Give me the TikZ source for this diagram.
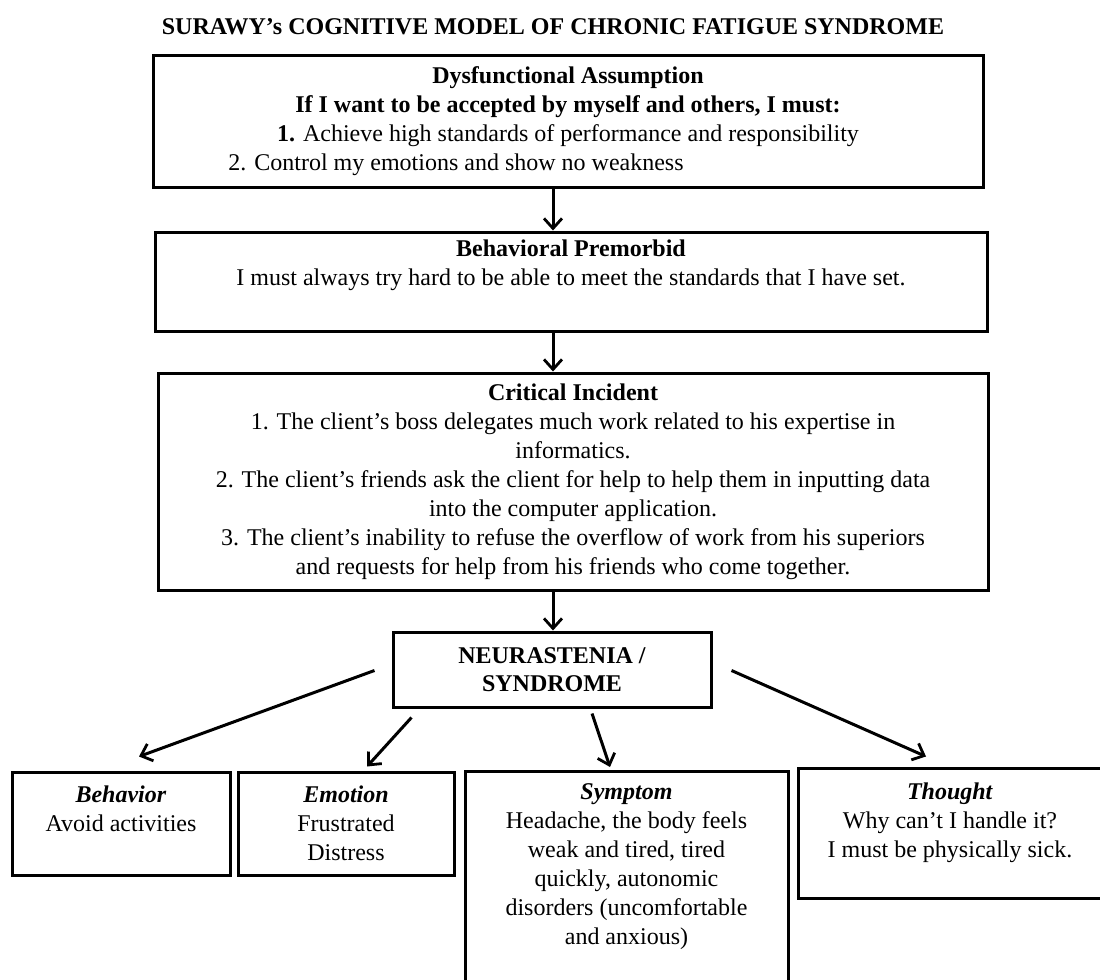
\documentclass[tikz,border=0pt]{standalone}
\usepackage{fontspec}
\setmainfont{Liberation Serif}
\usepackage{tikz}
\usetikzlibrary{calc,arrows.meta}
\tikzset{
  box/.style={draw=black, line width=1.5pt, align=center, inner sep=0pt,
    font=\fontsize{12}{14.5}\selectfont},
  ttl/.style={font=\fontsize{12}{14.5}\selectfont\bfseries},
  arr/.style={draw=black, line width=1.5pt,
    -{Straight Barb[length=5pt,width=9pt,line width=1.4pt]}},
}

\begin{document}
\begin{tikzpicture}[x=0.5pt,y=-0.5pt]
  \useasboundingbox[fill=white] (0,0) rectangle (1100,980);
  \node[ttl] (title) at (553,27) {SURAWY's COGNITIVE MODEL OF CHRONIC FATIGUE SYNDROME};
  % top chain
  \node[box, minimum width=415pt, minimum height=66pt] (dysf) at (568,121)
    {\textbf{Dysfunctional Assumption}\\
     \textbf{If I want to be accepted by myself and others, I must:}\\
     \textbf{1.} Achieve high standards of performance and responsibility\\
     2. Control my emotions and show no weakness\hspace*{112pt}};
  \node[box, minimum width=416pt, minimum height=49.5pt] (prem) at (571,281.5)
    {\textbf{Behavioral Premorbid}\\
     I must always try hard to be able to meet the standards that I have set.\\
     \strut};
  \node[box, minimum width=415pt, minimum height=108.5pt] (crit) at (573,481.5)
    {\textbf{Critical Incident}\\
     1. The client's boss delegates much work related to his expertise in\\
     informatics.\\
     2. The client's friends ask the client for help to help them in inputting data\\
     into the computer application.\\
     3. The client's inability to refuse the overflow of work from his superiors\\
     and requests for help from his friends who come together.};
  \node[box, minimum width=159pt, minimum height=37.5pt, font=\fontsize{12}{14}\selectfont\bfseries] (neur) at (552,669.5)
    {NEURASTENIA /\\SYNDROME};
  % bottom row
  \node[box, minimum width=109pt, minimum height=51.5pt] (behav) at (121,823.5)
    {\textbf{\textit{Behavior}}\\ Avoid activities\\[-4pt] \strut};
  \node[box, minimum width=108pt, minimum height=51.5pt] (emot) at (346,823.5)
    {\textbf{\textit{Emotion}}\\ Frustrated\\ Distress};
  \node[box, minimum width=161.5pt, minimum height=140pt, anchor=north] (symp) at (626.5,770)
    {\textbf{\textit{Symptom}}\\ Headache, the body feels\\ weak and tired, tired\\
     quickly, autonomic\\ disorders (uncomfortable\\ and anxious)\\ \strut\\ \strut\\ \strut};
  \node[box, minimum width=152pt, minimum height=65pt] (thou) at (950,833)
    {\textbf{\textit{Thought}}\\ Why can't I handle it?\\ I must be physically sick.\\[-6pt] \strut};
  % arrows down the chain
  \draw[arr] (dysf.south -| title) -- (prem.north -| title);
  \draw[arr] (prem.south -| title) -- (crit.north -| title);
  \draw[arr] (crit.south -| title) -- (neur.north -| title);
  % fan out
  \coordinate (sb) at ($(neur.west)+(-17,1)$);
  \coordinate (se) at ($(neur.south west)+(20,9)$);
  \coordinate (ss) at ($(neur.south)+(40,5)$);
  \coordinate (st) at ($(neur.east)+(19,1)$);
  \draw[arr] (sb) -- ($(behav.north)+(18,-14)$);
  \draw[arr] (se) -- ($(emot.north)+(21,-4)$);
  \draw[arr] (ss) -- ($(symp.north)+(-16.5,-3)$);
  \draw[arr] (st) -- ($(thou.north)+(-24,-10)$);
\end{tikzpicture}
\end{document}
